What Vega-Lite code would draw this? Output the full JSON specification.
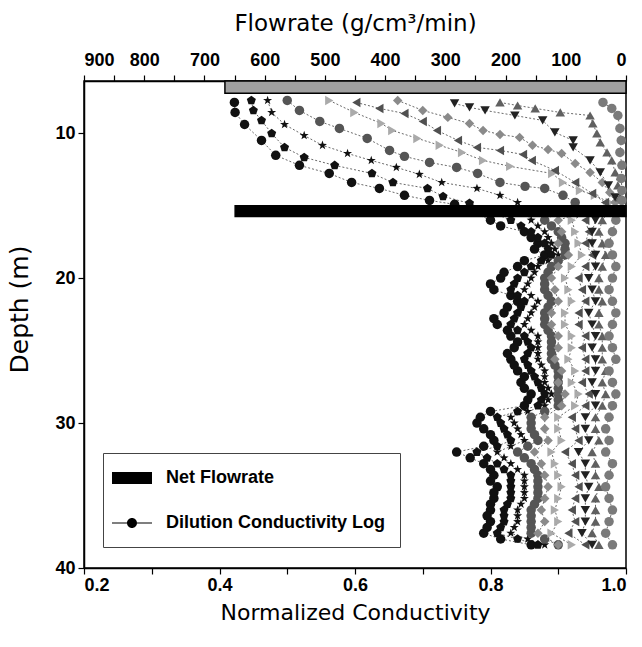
{
 "$schema": "https://vega.github.io/schema/vega-lite/v6.json",
 "width": 542, "height": 487,
 "autosize": {"type": "none"},
 "padding": {"left": 84, "top": 81, "right": 16, "bottom": 79},
 "background": "white",
 "config": {
  "view": {"stroke": "black", "strokeWidth": 1.5},
  "axis": {"domainColor": "black", "domainWidth": 1.5, "tickColor": "black", "tickWidth": 1.2, "grid": false, "labelFont": "Liberation Sans", "labelFontWeight": "bold", "labelFontSize": 18, "labelColor": "black", "labelOverlap": false, "titleFont": "DejaVu Sans", "titleFontWeight": "normal", "titleColor": "black"}
 },
 "datasets": {
  "bars": [
   {"kind": "top", "f": 666, "f0": 0, "d1": 6.4, "d2": 7.25},
   {"kind": "mid", "f": 649, "f0": 0, "d1": 15.0, "d2": 15.75}
  ],
  "leg": [{"k": "Net Flowrate"}, {"k": "Dilution Conductivity Log"}],
  "log": [
   {"s":1,"d":7.88,"c":0.422},{"s":1,"d":8.57,"c":0.423},{"s":1,"d":9.40,"c":0.437},{"s":1,"d":10.5,"c":0.462},{"s":1,"d":11.53,"c":0.483},{"s":1,"d":12.22,"c":0.518},{"s":1,"d":12.78,"c":0.562},{"s":1,"d":13.40,"c":0.595},{"s":1,"d":13.81,"c":0.636},{"s":1,"d":14.29,"c":0.673},{"s":1,"d":14.64,"c":0.710},{"s":1,"d":14.91,"c":0.747},
   {"s":2,"d":7.74,"c":0.447},{"s":2,"d":8.43,"c":0.450},{"s":2,"d":9.12,"c":0.462},{"s":2,"d":10.02,"c":0.477},{"s":2,"d":10.98,"c":0.496},{"s":2,"d":11.67,"c":0.525},{"s":2,"d":12.22,"c":0.570},{"s":2,"d":12.78,"c":0.625},{"s":2,"d":13.40,"c":0.656},{"s":2,"d":13.81,"c":0.707},{"s":2,"d":14.36,"c":0.730},{"s":2,"d":14.84,"c":0.769},
   {"s":3,"d":7.74,"c":0.471},{"s":3,"d":8.57,"c":0.477},{"s":3,"d":9.40,"c":0.496},{"s":3,"d":10.16,"c":0.525},{"s":3,"d":10.84,"c":0.552},{"s":3,"d":11.40,"c":0.589},{"s":3,"d":11.88,"c":0.624},{"s":3,"d":12.36,"c":0.661},{"s":3,"d":12.84,"c":0.695},{"s":3,"d":13.40,"c":0.728},{"s":3,"d":13.81,"c":0.780},{"s":3,"d":14.29,"c":0.814},{"s":3,"d":14.78,"c":0.840},
   {"s":4,"d":7.74,"c":0.500},{"s":4,"d":8.43,"c":0.518},{"s":4,"d":9.19,"c":0.548},{"s":4,"d":9.67,"c":0.577},{"s":4,"d":10.36,"c":0.618},{"s":4,"d":11.19,"c":0.651},{"s":4,"d":11.60,"c":0.673},{"s":4,"d":12.02,"c":0.710},{"s":4,"d":12.36,"c":0.750},{"s":4,"d":12.78,"c":0.781},{"s":4,"d":13.40,"c":0.814},{"s":4,"d":13.67,"c":0.851},{"s":4,"d":13.81,"c":0.880},{"s":4,"d":14.29,"c":0.907},{"s":4,"d":14.78,"c":0.925},
   {"s":5,"d":7.74,"c":0.562},{"s":5,"d":8.57,"c":0.599},{"s":5,"d":9.33,"c":0.639},{"s":5,"d":9.81,"c":0.655},{"s":5,"d":10.36,"c":0.692},{"s":5,"d":10.84,"c":0.725},{"s":5,"d":11.33,"c":0.758},{"s":5,"d":11.88,"c":0.789},{"s":5,"d":12.29,"c":0.829},{"s":5,"d":12.78,"c":0.891},{"s":5,"d":13.40,"c":0.907},{"s":5,"d":13.95,"c":0.932},{"s":5,"d":14.29,"c":0.954},{"s":5,"d":14.78,"c":0.976},
   {"s":6,"d":7.88,"c":0.602},{"s":6,"d":8.29,"c":0.636},{"s":6,"d":8.64,"c":0.673},{"s":6,"d":9.19,"c":0.700},{"s":6,"d":9.81,"c":0.721},{"s":6,"d":10.5,"c":0.752},{"s":6,"d":10.98,"c":0.780},{"s":6,"d":11.19,"c":0.814},{"s":6,"d":11.47,"c":0.848},{"s":6,"d":11.88,"c":0.861},{"s":6,"d":12.57,"c":0.895},{"s":6,"d":13.40,"c":0.925},{"s":6,"d":14.16,"c":0.950},{"s":6,"d":14.78,"c":0.969},
   {"s":7,"d":7.74,"c":0.663},{"s":7,"d":8.43,"c":0.700},{"s":7,"d":8.91,"c":0.737},{"s":7,"d":9.33,"c":0.769},{"s":7,"d":9.81,"c":0.789},{"s":7,"d":10.09,"c":0.814},{"s":7,"d":10.29,"c":0.843},{"s":7,"d":10.84,"c":0.862},{"s":7,"d":11.12,"c":0.885},{"s":7,"d":11.40,"c":0.905},{"s":7,"d":12.09,"c":0.925},{"s":7,"d":12.71,"c":0.947},{"s":7,"d":13.40,"c":0.965},{"s":7,"d":14.09,"c":0.976},{"s":7,"d":14.78,"c":0.984},
   {"s":8,"d":7.95,"c":0.747},{"s":8,"d":8.22,"c":0.769},{"s":8,"d":8.43,"c":0.792},{"s":8,"d":8.78,"c":0.836},{"s":8,"d":9.12,"c":0.877},{"s":8,"d":9.95,"c":0.895},{"s":8,"d":10.5,"c":0.922},{"s":8,"d":10.98,"c":0.922},{"s":8,"d":11.88,"c":0.947},{"s":8,"d":12.71,"c":0.962},{"s":8,"d":13.60,"c":0.974},{"s":8,"d":14.43,"c":0.984},
   {"s":9,"d":7.88,"c":0.814},{"s":9,"d":8.09,"c":0.840},{"s":9,"d":8.29,"c":0.866},{"s":9,"d":8.57,"c":0.903},{"s":9,"d":8.78,"c":0.947},{"s":9,"d":9.33,"c":0.951},{"s":9,"d":10.02,"c":0.957},{"s":9,"d":10.64,"c":0.962},{"s":9,"d":11.33,"c":0.972},{"s":9,"d":11.88,"c":0.979},{"s":9,"d":12.71,"c":0.984},{"s":9,"d":13.60,"c":0.988},{"s":9,"d":14.43,"c":0.991},
   {"s":10,"d":7.88,"c":0.966},{"s":10,"d":8.29,"c":0.979},{"s":10,"d":8.78,"c":0.988},{"s":10,"d":9.67,"c":0.991},{"s":10,"d":10.5,"c":0.993},{"s":10,"d":11.33,"c":0.991},{"s":10,"d":12.22,"c":0.994},{"s":10,"d":13.12,"c":0.993},{"s":10,"d":13.95,"c":0.994},{"s":10,"d":14.64,"c":0.994},

   {"s":1,"d":16.0,"c":0.80},{"s":1,"d":16.8,"c":0.85},{"s":1,"d":17.6,"c":0.87},{"s":1,"d":18.4,"c":0.88},{"s":1,"d":19.2,"c":0.84},{"s":1,"d":20.0,"c":0.815},{"s":1,"d":20.8,"c":0.805},{"s":1,"d":21.6,"c":0.84},{"s":1,"d":22.4,"c":0.82},{"s":1,"d":23.2,"c":0.81},{"s":1,"d":24.0,"c":0.83},{"s":1,"d":24.8,"c":0.835},{"s":1,"d":25.6,"c":0.83},{"s":1,"d":26.4,"c":0.84},{"s":1,"d":27.2,"c":0.845},{"s":1,"d":28.0,"c":0.86},{"s":1,"d":28.8,"c":0.85},{"s":1,"d":29.6,"c":0.785},{"s":1,"d":30.4,"c":0.79},{"s":1,"d":31.2,"c":0.805},{"s":1,"d":32.0,"c":0.75},{"s":1,"d":32.8,"c":0.79},{"s":1,"d":33.6,"c":0.805},{"s":1,"d":34.4,"c":0.81},{"s":1,"d":35.2,"c":0.805},{"s":1,"d":36.0,"c":0.80},{"s":1,"d":36.8,"c":0.80},{"s":1,"d":37.6,"c":0.79},{"s":1,"d":38.4,"c":0.86},
   {"s":1,"d":16.4,"c":0.815},{"s":1,"d":17.2,"c":0.86},{"s":1,"d":18.0,"c":0.865},{"s":1,"d":18.8,"c":0.85},{"s":1,"d":19.6,"c":0.82},{"s":1,"d":20.4,"c":0.80},{"s":1,"d":21.2,"c":0.83},{"s":1,"d":22.0,"c":0.825},{"s":1,"d":22.8,"c":0.805},{"s":1,"d":23.6,"c":0.825},{"s":1,"d":24.4,"c":0.84},{"s":1,"d":25.2,"c":0.825},{"s":1,"d":26.0,"c":0.835},{"s":1,"d":26.8,"c":0.85},{"s":1,"d":27.6,"c":0.85},{"s":1,"d":28.4,"c":0.855},{"s":1,"d":29.2,"c":0.80},{"s":1,"d":30.0,"c":0.78},{"s":1,"d":30.8,"c":0.80},{"s":1,"d":31.6,"c":0.79},{"s":1,"d":32.4,"c":0.77},{"s":1,"d":33.2,"c":0.80},{"s":1,"d":34.0,"c":0.80},{"s":1,"d":34.8,"c":0.805},{"s":1,"d":35.6,"c":0.80},{"s":1,"d":36.4,"c":0.795},{"s":1,"d":37.2,"c":0.795},{"s":1,"d":38.0,"c":0.815},
   {"s":2,"d":16.0,"c":0.83},{"s":2,"d":16.8,"c":0.86},{"s":2,"d":17.6,"c":0.88},{"s":2,"d":18.4,"c":0.89},{"s":2,"d":19.2,"c":0.86},{"s":2,"d":20.0,"c":0.84},{"s":2,"d":20.8,"c":0.83},{"s":2,"d":21.6,"c":0.85},{"s":2,"d":22.4,"c":0.84},{"s":2,"d":23.2,"c":0.83},{"s":2,"d":24.0,"c":0.85},{"s":2,"d":24.8,"c":0.86},{"s":2,"d":25.6,"c":0.85},{"s":2,"d":26.4,"c":0.86},{"s":2,"d":27.2,"c":0.87},{"s":2,"d":28.0,"c":0.88},{"s":2,"d":28.8,"c":0.87},{"s":2,"d":29.6,"c":0.81},{"s":2,"d":30.4,"c":0.82},{"s":2,"d":31.2,"c":0.83},{"s":2,"d":32.0,"c":0.78},{"s":2,"d":32.8,"c":0.81},{"s":2,"d":33.6,"c":0.83},{"s":2,"d":34.4,"c":0.83},{"s":2,"d":35.2,"c":0.83},{"s":2,"d":36.0,"c":0.82},{"s":2,"d":36.8,"c":0.82},{"s":2,"d":37.6,"c":0.81},{"s":2,"d":38.4,"c":0.87},
   {"s":2,"d":16.4,"c":0.845},{"s":2,"d":17.2,"c":0.87},{"s":2,"d":18.0,"c":0.885},{"s":2,"d":18.8,"c":0.875},{"s":2,"d":19.6,"c":0.85},{"s":2,"d":20.4,"c":0.835},{"s":2,"d":21.2,"c":0.84},{"s":2,"d":22.0,"c":0.845},{"s":2,"d":22.8,"c":0.835},{"s":2,"d":23.6,"c":0.84},{"s":2,"d":24.4,"c":0.855},{"s":2,"d":25.2,"c":0.855},{"s":2,"d":26.0,"c":0.855},{"s":2,"d":26.8,"c":0.865},{"s":2,"d":27.6,"c":0.875},{"s":2,"d":28.4,"c":0.875},{"s":2,"d":29.2,"c":0.84},{"s":2,"d":30.0,"c":0.815},{"s":2,"d":30.8,"c":0.825},{"s":2,"d":31.6,"c":0.81},{"s":2,"d":32.4,"c":0.795},{"s":2,"d":33.2,"c":0.82},{"s":2,"d":34.0,"c":0.83},{"s":2,"d":34.8,"c":0.83},{"s":2,"d":35.6,"c":0.825},{"s":2,"d":36.4,"c":0.82},{"s":2,"d":37.2,"c":0.815},{"s":2,"d":38.0,"c":0.84},
   {"s":3,"d":16.0,"c":0.86},{"s":3,"d":16.8,"c":0.88},{"s":3,"d":17.6,"c":0.89},{"s":3,"d":18.4,"c":0.90},{"s":3,"d":19.2,"c":0.87},{"s":3,"d":20.0,"c":0.86},{"s":3,"d":20.8,"c":0.85},{"s":3,"d":21.6,"c":0.87},{"s":3,"d":22.4,"c":0.86},{"s":3,"d":23.2,"c":0.85},{"s":3,"d":24.0,"c":0.87},{"s":3,"d":24.8,"c":0.87},{"s":3,"d":25.6,"c":0.87},{"s":3,"d":26.4,"c":0.88},{"s":3,"d":27.2,"c":0.88},{"s":3,"d":28.0,"c":0.89},{"s":3,"d":28.8,"c":0.88},{"s":3,"d":29.6,"c":0.83},{"s":3,"d":30.4,"c":0.84},{"s":3,"d":31.2,"c":0.85},{"s":3,"d":32.0,"c":0.81},{"s":3,"d":32.8,"c":0.83},{"s":3,"d":33.6,"c":0.85},{"s":3,"d":34.4,"c":0.85},{"s":3,"d":35.2,"c":0.85},{"s":3,"d":36.0,"c":0.84},{"s":3,"d":36.8,"c":0.84},{"s":3,"d":37.6,"c":0.83},{"s":3,"d":38.4,"c":0.88},
   {"s":3,"d":16.4,"c":0.87},{"s":3,"d":17.2,"c":0.885},{"s":3,"d":18.0,"c":0.895},{"s":3,"d":18.8,"c":0.885},{"s":3,"d":19.6,"c":0.865},{"s":3,"d":20.4,"c":0.855},{"s":3,"d":21.2,"c":0.86},{"s":3,"d":22.0,"c":0.865},{"s":3,"d":22.8,"c":0.855},{"s":3,"d":23.6,"c":0.86},{"s":3,"d":24.4,"c":0.87},{"s":3,"d":25.2,"c":0.87},{"s":3,"d":26.0,"c":0.875},{"s":3,"d":26.8,"c":0.88},{"s":3,"d":27.6,"c":0.885},{"s":3,"d":28.4,"c":0.885},{"s":3,"d":29.2,"c":0.855},{"s":3,"d":30.0,"c":0.835},{"s":3,"d":30.8,"c":0.845},{"s":3,"d":31.6,"c":0.83},{"s":3,"d":32.4,"c":0.82},{"s":3,"d":33.2,"c":0.84},{"s":3,"d":34.0,"c":0.85},{"s":3,"d":34.8,"c":0.85},{"s":3,"d":35.6,"c":0.845},{"s":3,"d":36.4,"c":0.84},{"s":3,"d":37.2,"c":0.835},{"s":3,"d":38.0,"c":0.855},
   {"s":4,"d":16.0,"c":0.88},{"s":4,"d":16.8,"c":0.90},{"s":4,"d":17.6,"c":0.91},{"s":4,"d":18.4,"c":0.91},{"s":4,"d":19.2,"c":0.89},{"s":4,"d":20.0,"c":0.88},{"s":4,"d":20.8,"c":0.88},{"s":4,"d":21.6,"c":0.89},{"s":4,"d":22.4,"c":0.88},{"s":4,"d":23.2,"c":0.88},{"s":4,"d":24.0,"c":0.89},{"s":4,"d":24.8,"c":0.89},{"s":4,"d":25.6,"c":0.89},{"s":4,"d":26.4,"c":0.90},{"s":4,"d":27.2,"c":0.90},{"s":4,"d":28.0,"c":0.90},{"s":4,"d":28.8,"c":0.90},{"s":4,"d":29.6,"c":0.86},{"s":4,"d":30.4,"c":0.86},{"s":4,"d":31.2,"c":0.87},{"s":4,"d":32.0,"c":0.84},{"s":4,"d":32.8,"c":0.86},{"s":4,"d":33.6,"c":0.87},{"s":4,"d":34.4,"c":0.87},{"s":4,"d":35.2,"c":0.87},{"s":4,"d":36.0,"c":0.86},{"s":4,"d":36.8,"c":0.86},{"s":4,"d":37.6,"c":0.86},{"s":4,"d":38.4,"c":0.90},
   {"s":4,"d":16.4,"c":0.89},{"s":4,"d":17.2,"c":0.905},{"s":4,"d":18.0,"c":0.91},{"s":4,"d":18.8,"c":0.90},{"s":4,"d":19.6,"c":0.885},{"s":4,"d":20.4,"c":0.88},{"s":4,"d":21.2,"c":0.885},{"s":4,"d":22.0,"c":0.885},{"s":4,"d":22.8,"c":0.88},{"s":4,"d":23.6,"c":0.885},{"s":4,"d":24.4,"c":0.89},{"s":4,"d":25.2,"c":0.89},{"s":4,"d":26.0,"c":0.895},{"s":4,"d":26.8,"c":0.90},{"s":4,"d":27.6,"c":0.90},{"s":4,"d":28.4,"c":0.90},{"s":4,"d":29.2,"c":0.88},{"s":4,"d":30.0,"c":0.86},{"s":4,"d":30.8,"c":0.865},{"s":4,"d":31.6,"c":0.855},{"s":4,"d":32.4,"c":0.85},{"s":4,"d":33.2,"c":0.865},{"s":4,"d":34.0,"c":0.87},{"s":4,"d":34.8,"c":0.87},{"s":4,"d":35.6,"c":0.865},{"s":4,"d":36.4,"c":0.86},{"s":4,"d":37.2,"c":0.86},{"s":4,"d":38.0,"c":0.88},
   {"s":5,"d":16.0,"c":0.92},{"s":5,"d":16.8,"c":0.925},{"s":5,"d":17.6,"c":0.93},{"s":5,"d":18.4,"c":0.935},{"s":5,"d":19.2,"c":0.92},{"s":5,"d":20.0,"c":0.91},{"s":5,"d":20.8,"c":0.915},{"s":5,"d":21.6,"c":0.92},{"s":5,"d":22.4,"c":0.91},{"s":5,"d":23.2,"c":0.91},{"s":5,"d":24.0,"c":0.92},{"s":5,"d":24.8,"c":0.92},{"s":5,"d":25.6,"c":0.915},{"s":5,"d":26.4,"c":0.925},{"s":5,"d":27.2,"c":0.92},{"s":5,"d":28.0,"c":0.93},{"s":5,"d":28.8,"c":0.925},{"s":5,"d":29.6,"c":0.90},{"s":5,"d":30.4,"c":0.90},{"s":5,"d":31.2,"c":0.905},{"s":5,"d":32.0,"c":0.89},{"s":5,"d":32.8,"c":0.895},{"s":5,"d":33.6,"c":0.90},{"s":5,"d":34.4,"c":0.905},{"s":5,"d":35.2,"c":0.90},{"s":5,"d":36.0,"c":0.895},{"s":5,"d":36.8,"c":0.90},{"s":5,"d":37.6,"c":0.89},{"s":5,"d":38.4,"c":0.92},
   {"s":6,"d":16.0,"c":0.94},{"s":6,"d":16.8,"c":0.945},{"s":6,"d":17.6,"c":0.94},{"s":6,"d":18.4,"c":0.95},{"s":6,"d":19.2,"c":0.94},{"s":6,"d":20.0,"c":0.93},{"s":6,"d":20.8,"c":0.935},{"s":6,"d":21.6,"c":0.94},{"s":6,"d":22.4,"c":0.93},{"s":6,"d":23.2,"c":0.93},{"s":6,"d":24.0,"c":0.94},{"s":6,"d":24.8,"c":0.935},{"s":6,"d":25.6,"c":0.94},{"s":6,"d":26.4,"c":0.94},{"s":6,"d":27.2,"c":0.935},{"s":6,"d":28.0,"c":0.945},{"s":6,"d":28.8,"c":0.94},{"s":6,"d":29.6,"c":0.92},{"s":6,"d":30.4,"c":0.925},{"s":6,"d":31.2,"c":0.93},{"s":6,"d":32.0,"c":0.91},{"s":6,"d":32.8,"c":0.92},{"s":6,"d":33.6,"c":0.925},{"s":6,"d":34.4,"c":0.93},{"s":6,"d":35.2,"c":0.925},{"s":6,"d":36.0,"c":0.92},{"s":6,"d":36.8,"c":0.925},{"s":6,"d":37.6,"c":0.915},{"s":6,"d":38.4,"c":0.94},
   {"s":7,"d":16.0,"c":0.90},{"s":7,"d":16.8,"c":0.905},{"s":7,"d":17.6,"c":0.90},{"s":7,"d":18.4,"c":0.915},{"s":7,"d":19.2,"c":0.90},{"s":7,"d":20.0,"c":0.89},{"s":7,"d":20.8,"c":0.895},{"s":7,"d":21.6,"c":0.90},{"s":7,"d":22.4,"c":0.89},{"s":7,"d":23.2,"c":0.89},{"s":7,"d":24.0,"c":0.90},{"s":7,"d":24.8,"c":0.90},{"s":7,"d":25.6,"c":0.895},{"s":7,"d":26.4,"c":0.905},{"s":7,"d":27.2,"c":0.90},{"s":7,"d":28.0,"c":0.91},{"s":7,"d":28.8,"c":0.905},{"s":7,"d":29.6,"c":0.88},{"s":7,"d":30.4,"c":0.88},{"s":7,"d":31.2,"c":0.885},{"s":7,"d":32.0,"c":0.865},{"s":7,"d":32.8,"c":0.875},{"s":7,"d":33.6,"c":0.88},{"s":7,"d":34.4,"c":0.885},{"s":7,"d":35.2,"c":0.88},{"s":7,"d":36.0,"c":0.875},{"s":7,"d":36.8,"c":0.88},{"s":7,"d":37.6,"c":0.87},{"s":7,"d":38.4,"c":0.90},
   {"s":8,"d":16.0,"c":0.955},{"s":8,"d":16.8,"c":0.95},{"s":8,"d":17.6,"c":0.95},{"s":8,"d":18.4,"c":0.955},{"s":8,"d":19.2,"c":0.955},{"s":8,"d":20.0,"c":0.945},{"s":8,"d":20.8,"c":0.95},{"s":8,"d":21.6,"c":0.955},{"s":8,"d":22.4,"c":0.945},{"s":8,"d":23.2,"c":0.95},{"s":8,"d":24.0,"c":0.955},{"s":8,"d":24.8,"c":0.95},{"s":8,"d":25.6,"c":0.955},{"s":8,"d":26.4,"c":0.955},{"s":8,"d":27.2,"c":0.95},{"s":8,"d":28.0,"c":0.955},{"s":8,"d":28.8,"c":0.955},{"s":8,"d":29.6,"c":0.94},{"s":8,"d":30.4,"c":0.94},{"s":8,"d":31.2,"c":0.945},{"s":8,"d":32.0,"c":0.93},{"s":8,"d":32.8,"c":0.94},{"s":8,"d":33.6,"c":0.94},{"s":8,"d":34.4,"c":0.945},{"s":8,"d":35.2,"c":0.94},{"s":8,"d":36.0,"c":0.94},{"s":8,"d":36.8,"c":0.94},{"s":8,"d":37.6,"c":0.935},{"s":8,"d":38.4,"c":0.95},
   {"s":9,"d":16.0,"c":0.965},{"s":9,"d":16.8,"c":0.96},{"s":9,"d":17.6,"c":0.965},{"s":9,"d":18.4,"c":0.97},{"s":9,"d":19.2,"c":0.965},{"s":9,"d":20.0,"c":0.96},{"s":9,"d":20.8,"c":0.96},{"s":9,"d":21.6,"c":0.965},{"s":9,"d":22.4,"c":0.96},{"s":9,"d":23.2,"c":0.96},{"s":9,"d":24.0,"c":0.965},{"s":9,"d":24.8,"c":0.965},{"s":9,"d":25.6,"c":0.965},{"s":9,"d":26.4,"c":0.97},{"s":9,"d":27.2,"c":0.965},{"s":9,"d":28.0,"c":0.97},{"s":9,"d":28.8,"c":0.965},{"s":9,"d":29.6,"c":0.955},{"s":9,"d":30.4,"c":0.955},{"s":9,"d":31.2,"c":0.96},{"s":9,"d":32.0,"c":0.95},{"s":9,"d":32.8,"c":0.955},{"s":9,"d":33.6,"c":0.955},{"s":9,"d":34.4,"c":0.96},{"s":9,"d":35.2,"c":0.955},{"s":9,"d":36.0,"c":0.955},{"s":9,"d":36.8,"c":0.955},{"s":9,"d":37.6,"c":0.95},{"s":9,"d":38.4,"c":0.96},
   {"s":10,"d":16.0,"c":0.985},{"s":10,"d":16.8,"c":0.98},{"s":10,"d":17.6,"c":0.975},{"s":10,"d":18.4,"c":0.98},{"s":10,"d":19.2,"c":0.985},{"s":10,"d":20.0,"c":0.98},{"s":10,"d":20.8,"c":0.975},{"s":10,"d":21.6,"c":0.98},{"s":10,"d":22.4,"c":0.985},{"s":10,"d":23.2,"c":0.98},{"s":10,"d":24.0,"c":0.975},{"s":10,"d":24.8,"c":0.98},{"s":10,"d":25.6,"c":0.985},{"s":10,"d":26.4,"c":0.975},{"s":10,"d":27.2,"c":0.98},{"s":10,"d":28.0,"c":0.985},{"s":10,"d":28.8,"c":0.98},{"s":10,"d":29.6,"c":0.975},{"s":10,"d":30.4,"c":0.97},{"s":10,"d":31.2,"c":0.975},{"s":10,"d":32.0,"c":0.97},{"s":10,"d":32.8,"c":0.98},{"s":10,"d":33.6,"c":0.975},{"s":10,"d":34.4,"c":0.97},{"s":10,"d":35.2,"c":0.975},{"s":10,"d":36.0,"c":0.98},{"s":10,"d":36.8,"c":0.975},{"s":10,"d":37.6,"c":0.97},{"s":10,"d":38.4,"c":0.98}
  ]
 },
 "layer": [
  {
   "layer": [
    {
     "data": {"name": "log"},
     "mark": {"type": "line", "stroke": "#444444", "strokeWidth": 0.8, "strokeDash": [2, 2]},
     "encoding": {
      "x": {"field": "c", "type": "quantitative", "scale": {"domain": [0.2, 1.0], "nice": false, "zero": false},
            "axis": {"orient": "bottom", "values": [0.2, 0.3, 0.4, 0.5, 0.6, 0.7, 0.8, 0.9, 1.0], "labelExpr": "round(datum.value*10)%2===0 ? format(datum.value,'.1f') : ''", "tickSize": 6, "labelPadding": 2, "title": "Normalized Conductivity", "titleFontSize": 22, "titlePadding": 8}},
      "y": {"field": "d", "type": "quantitative", "scale": {"domain": [6.4, 40], "reverse": true, "nice": false, "zero": false},
            "axis": {"values": [10, 20, 30, 40], "format": "d", "tickSize": 6, "labelPadding": 3, "title": "Depth (m)", "titleFontSize": 25, "titlePadding": 22, "titleY": 228}},
      "detail": {"field": "s", "type": "nominal"},
      "order": {"field": "d", "type": "quantitative"}
     }
    },
    {
     "data": {"name": "log"},
     "mark": {"type": "point", "filled": true, "opacity": 1, "size": 90},
     "encoding": {
      "x": {"field": "c", "type": "quantitative"},
      "y": {"field": "d", "type": "quantitative"},
      "shape": {"field": "s", "type": "nominal", "legend": null,
                "scale": {"domain": [1, 2, 3, 4, 5, 6, 7, 8, 9, 10],
                          "range": ["circle", "M0,-1L0.951,-0.309L0.588,0.809L-0.588,0.809L-0.951,-0.309Z", "M0,-1L0.235,-0.324L0.951,-0.309L0.38,0.124L0.588,0.809L0,0.4L-0.588,0.809L-0.38,0.124L-0.951,-0.309L-0.235,-0.324Z", "circle", "triangle-right", "triangle-left", "diamond", "triangle-down", "triangle-up", "circle"]}},
      "color": {"field": "s", "type": "nominal", "legend": null,
                "scale": {"domain": [1, 2, 3, 4, 5, 6, 7, 8, 9, 10],
                          "range": ["#111111", "#111111", "#111111", "#555555", "#aaaaaa", "#505050", "#8a8a8a", "#222222", "#606060", "#7a7a7a"]}}
     }
    },
    {
     "mark": {"type": "rule", "stroke": "black", "strokeWidth": 5},
     "encoding": {"x": {"datum": 1.0}}
    },
    {
     "data": {"name": "leg"},
     "mark": {"type": "point", "filled": true, "color": "black", "opacity": 0},
     "encoding": {
      "x": {"datum": 0.5},
      "y": {"datum": 20},
      "shape": {"field": "k", "type": "nominal",
                "scale": {"domain": ["Net Flowrate", "Dilution Conductivity Log"],
                          "range": ["M-2,-0.6L2,-0.6L2,0.6L-2,0.6Z", "M-2,-0.06L-0.5,-0.06L-0.5,0.06L-2,0.06ZM0.5,-0.06L2,-0.06L2,0.06L0.5,0.06ZM-0.5,0A0.5,0.5,0,1,1,0.5,0A0.5,0.5,0,1,1,-0.5,0Z"]},
                "legend": {"orient": "none", "legendX": 19, "legendY": 372, "title": null, "padding": 15, "rowPadding": 26,
                           "symbolSize": 400, "symbolFillColor": "black", "symbolStrokeColor": "black", "symbolStrokeWidth": 0, "symbolOpacity": 1, "symbolOffset": 4,
                           "labelFont": "Liberation Sans", "labelFontSize": 18, "labelFontWeight": "bold", "labelColor": "black", "labelOffset": 24, "labelLimit": 400,
                           "strokeColor": "#444444", "fillColor": "white"}}
     }
    }
   ],
   "resolve": {"scale": {"shape": "independent"}, "legend": {"shape": "independent"}}
  },
  {
   "data": {"name": "bars"},
   "mark": {"type": "rect", "stroke": "black", "strokeWidth": 1.5},
   "encoding": {
    "x": {"field": "f", "type": "quantitative", "scale": {"domain": [0, 900], "reverse": true, "nice": false, "zero": false},
          "axis": {"orient": "top", "values": [0, 50, 100, 150, 200, 250, 300, 350, 400, 450, 500, 550, 600, 650, 700, 750, 800, 850, 900], "labelExpr": "datum.value%100===0 ? datum.value : ''", "tickSize": 6, "labelPadding": 6, "title": "Flowrate (g/cm³/min)", "titleFontSize": 23, "titlePadding": 16}},
    "x2": {"field": "f0"},
    "y": {"field": "d1", "type": "quantitative", "scale": {"domain": [6.4, 40], "reverse": true, "nice": false, "zero": false},
          "axis": {"values": [10, 20, 30, 40], "format": "d", "tickSize": 6, "labelPadding": 3, "title": "Depth (m)", "titleFontSize": 25, "titlePadding": 22, "titleY": 228}},
    "y2": {"field": "d2"},
    "fill": {"field": "kind", "type": "nominal", "scale": {"domain": ["top", "mid"], "range": ["#a0a0a0", "#000000"]}, "legend": null}
   }
  }
 ],
 "resolve": {"scale": {"x": "independent"}}
}
